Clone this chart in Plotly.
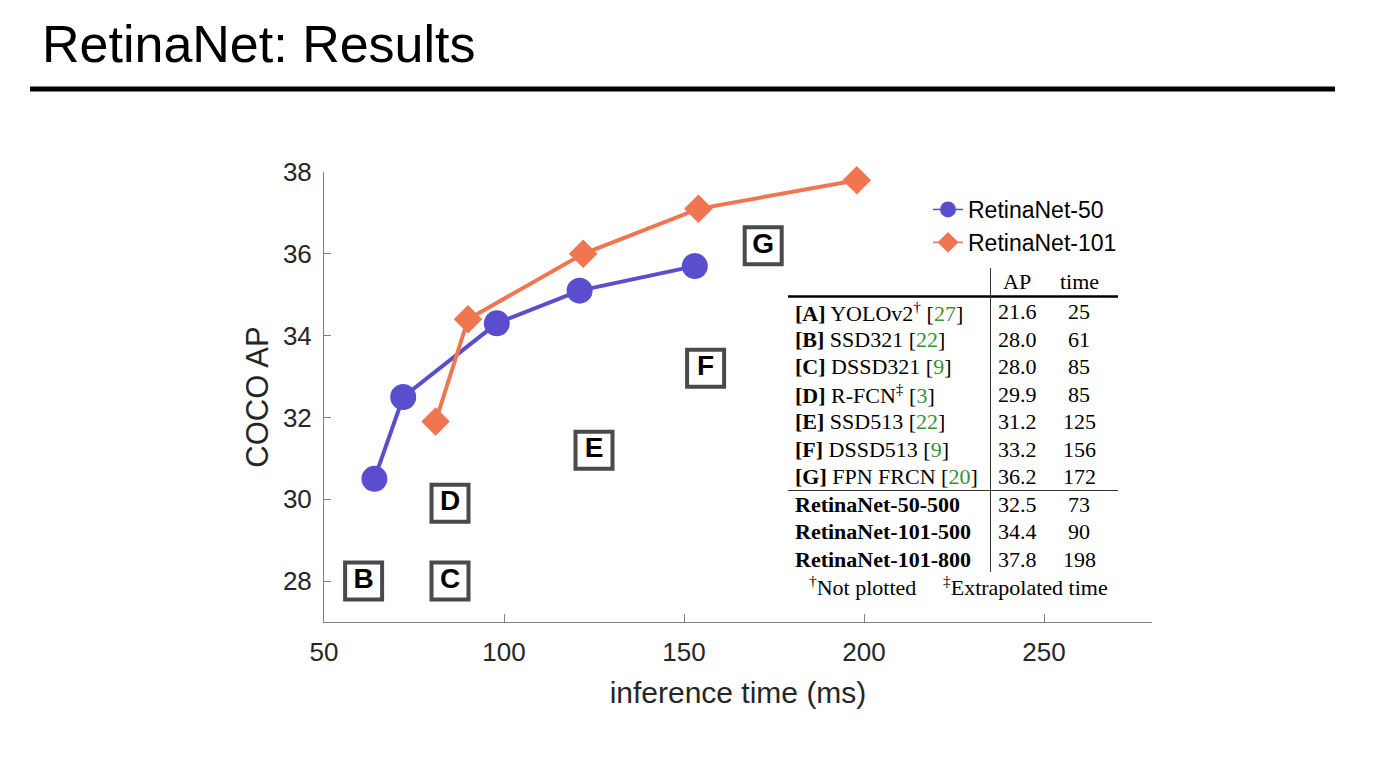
import plotly.graph_objects as go

# ===============================================================
# Data
# ===============================================================

r50_time = [64, 72, 98, 121, 153]
r50_ap = [30.5, 32.5, 34.3, 35.1, 35.7]

r101_time = [81, 90, 122, 154, 198]
r101_ap = [31.9, 34.4, 36.0, 37.1, 37.8]

# table rows (A is not plotted)
row_keys = ["A", "B", "C", "D", "E", "F", "G"]
row_names = ["YOLOv2<sup>†</sup>", "SSD321", "DSSD321", "R-FCN<sup>‡</sup>", "SSD513", "DSSD513", "FPN FRCN"]
row_refs = ["27", "22", "9", "3", "22", "9", "20"]
row_ap = [21.6, 28.0, 28.0, 29.9, 31.2, 33.2, 36.2]
row_time = [25, 61, 85, 85, 125, 156, 172]

retina_names = ["RetinaNet-50-500", "RetinaNet-101-500", "RetinaNet-101-800"]
retina_ap = [32.5, 34.4, 37.8]
retina_time = [73, 90, 198]

BLUE = "#5a4ecf"
ORANGE = "#ef7650"
GREEN = "#3a8f3a"
AXIS = "#808080"

# page body has an 8px margin, so pull everything up/left by that much
OFF = 8
W, H = 1394 - OFF, 771 - OFF

# plot area in (screen) pixels, used to place slide decorations / table
L, R, T, B = 324, 1152, 172, 622


def px(x):
    return (x - L) / (R - L)


def py(y):
    return (B - y) / (B - T)


fig = go.Figure()

# lettered boxes for other detectors
fig.add_trace(go.Scatter(
    x=row_time[1:], y=row_ap[1:], text=row_keys[1:],
    mode="markers+text", textposition="middle center",
    marker=dict(symbol="square", size=37, color="white", line=dict(color="#4a4a4a", width=4)),
    textfont=dict(family="Liberation Sans, Arial", size=28, color="black", weight="bold"),
    showlegend=False, hoverinfo="skip", cliponaxis=False
))

fig.add_trace(go.Scatter(
    x=r50_time, y=r50_ap, mode="lines+markers", name="RetinaNet-50",
    line=dict(color=BLUE, width=4), marker=dict(symbol="circle", size=26, color=BLUE),
    showlegend=False, cliponaxis=False
))
fig.add_trace(go.Scatter(
    x=r101_time, y=r101_ap, mode="lines+markers", name="RetinaNet-101",
    line=dict(color=ORANGE, width=4), marker=dict(symbol="diamond", size=22, color=ORANGE),
    showlegend=False, cliponaxis=False
))

# legend-only entries with thin lines like the original
fig.add_trace(go.Scatter(x=[None], y=[None], mode="lines+markers", name="RetinaNet-50",
                         line=dict(color=BLUE, width=1.5), marker=dict(symbol="circle", size=26, color=BLUE)))
fig.add_trace(go.Scatter(x=[None], y=[None], mode="lines+markers", name="RetinaNet-101",
                         line=dict(color=ORANGE, width=1.5), marker=dict(symbol="diamond", size=22, color=ORANGE)))

# ===============================================================
# Table as text annotations
# ===============================================================

serif = "Liberation Serif, Times New Roman, serif"
tfont = dict(family=serif, size=22, color="black")
ann = []


def add_text(text, x, y, anchor="left"):
    ann.append(dict(text=text, x=px(x), y=py(y), xref="paper", yref="paper",
                    xanchor=anchor, yanchor="middle", showarrow=False, font=tfont))


add_text("AP", 1017, 281, "center")
add_text("time", 1079, 281, "center")

for i, k in enumerate(row_keys):
    y = 311.7 + 27.5 * i
    add_text(f"<b>[{k}]</b> {row_names[i]} [<span style='color:{GREEN}'>{row_refs[i]}</span>]", 793, y)
    add_text(f"{row_ap[i]:.1f}", 1017, y, "center")
    add_text(f"{row_time[i]}", 1079, y, "center")

for i, name in enumerate(retina_names):
    y = 504.3 + 27.4 * i
    add_text(f"<b>{name}</b>", 793, y)
    add_text(f"{retina_ap[i]:.1f}", 1017, y, "center")
    add_text(f"{retina_time[i]}", 1079, y, "center")

add_text("<sup>†</sup>Not plotted", 862, 586, "center")
add_text("<sup>‡</sup>Extrapolated time", 1025, 586, "center")

shapes = [
    # table rules
    dict(type="line", xref="paper", yref="paper", x0=px(788), x1=px(1118), y0=py(296.5), y1=py(296.5),
         line=dict(color="black", width=2.5)),
    dict(type="line", xref="paper", yref="paper", x0=px(788), x1=px(1118), y0=py(490.5), y1=py(490.5),
         line=dict(color="#333333", width=1)),
    dict(type="line", xref="paper", yref="paper", x0=px(990.5), x1=px(990.5), y0=py(268), y1=py(572),
         line=dict(color="#333333", width=1)),
    # slide title underline
    dict(type="line", xref="paper", yref="paper", x0=px(30), x1=px(1335), y0=py(89), y1=py(89),
         line=dict(color="black", width=5)),
]

fig.update_layout(
    width=W, height=H,
    paper_bgcolor="white", plot_bgcolor="white",
    margin=dict(l=L - OFF, r=W - (R - OFF), t=T - OFF, b=H - (B - OFF)),
    title=dict(text="RetinaNet: Results", x=(42 - OFF) / W, xanchor="left", y=1 - (44 - OFF) / H, yanchor="middle",
               font=dict(family="Liberation Sans, Arial", size=52, color="black")),
    font=dict(family="Liberation Sans, Arial", color="#262626"),
    legend=dict(x=px(928), y=py(188), xanchor="left", yanchor="top", bgcolor="rgba(0,0,0,0)",
                font=dict(size=23, color="black"), itemsizing="trace", tracegroupgap=0),
    annotations=ann, shapes=shapes,
)

fig.update_xaxes(
    range=[50, 280], tickvals=[50, 100, 150, 200, 250], showgrid=False, zeroline=False,
    showline=True, linecolor=AXIS, linewidth=1, ticks="inside", ticklen=8, tickcolor=AXIS,
    tickfont=dict(size=26, color="#262626"), ticklabelstandoff=7,
    title=dict(text="inference time (ms)", font=dict(size=30, color="#262626"), standoff=15),
)
fig.update_yaxes(
    range=[27, 38], tickvals=[28, 30, 32, 34, 36, 38], showgrid=False, zeroline=False,
    showline=True, linecolor=AXIS, linewidth=1, ticks="inside", ticklen=7, tickcolor=AXIS,
    tickfont=dict(size=26, color="#262626"), ticklabelstandoff=6,
    title=dict(text="COCO AP", font=dict(size=31, color="#262626"), standoff=5),
)

fig.write_html("out.html")
